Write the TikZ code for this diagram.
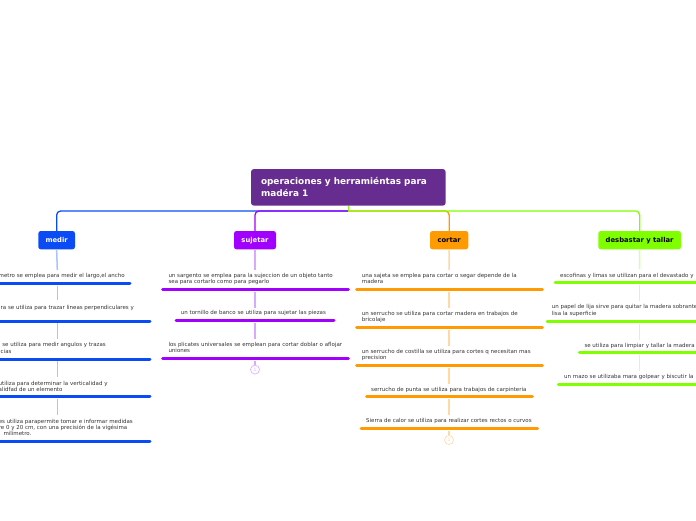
\documentclass[tikz,border=0pt]{standalone}
\usepackage{fontspec}
\setmainfont{DejaVu Sans}
\definecolor{rootc}{HTML}{672C90}
\definecolor{medc}{HTML}{0A4BF5}
\definecolor{sujc}{HTML}{A100FF}
\definecolor{cortc}{HTML}{FF9A00}
\definecolor{desc}{HTML}{80FF00}
\definecolor{medl}{HTML}{AAC3FF}
\definecolor{sujl}{HTML}{DCA8FF}
\definecolor{cortl}{HTML}{FFD8A3}
\definecolor{desl}{HTML}{D3FFA8}
\definecolor{txtc}{HTML}{333333}
\begin{document}
\begin{tikzpicture}[x=1pt,y=-1pt,
 itm/.style={inner sep=0pt, align=left, anchor=north west, font=\fontsize{5.5}{6.3}\selectfont, text=txtc},
 ln/.style={inner sep=0pt, anchor=base east, font=\fontsize{5.5}{6.3}\selectfont, text=txtc},
 lnl/.style={inner sep=0pt, anchor=base west, font=\fontsize{5.5}{6.3}\selectfont, text=txtc},
 hdr/.style={rounded corners=2.5pt, minimum height=18.3pt, inner sep=0pt, font=\fontsize{6.8}{8}\selectfont\bfseries},
 bar/.style={line width=3pt, line cap=round},
 vl/.style={line width=1.5pt},
 conn/.style={line width=1.3pt, rounded corners=4pt},
 cnt/.style={circle, draw, line width=0.6pt, minimum size=9pt, inner sep=0pt, font=\fontsize{4.5}{4.5}\selectfont}
]
\useasboundingbox (0,0) rectangle (696,520);
\clip (0,0) rectangle (696,520);

% root
\node[fill=rootc, rounded corners=3pt, minimum width=194.7pt, minimum height=36.7pt,
      text width=174.7pt, inner xsep=10pt, inner ysep=0pt, align=left, text=white,
      font=\fontsize{8.9}{12}\selectfont\bfseries] (root) at (348.35,187.35)
      {operaciones y herramiéntas para\\madéra 1};

% headers
\node[hdr, fill=medc, text=white, minimum width=36.7pt] (medir) at (56.65,240.15) {medir};
\node[hdr, fill=sujc, text=white, minimum width=42pt] (sujetar) at (255,240.15) {sujetar};
\node[hdr, fill=cortc, text=black, minimum width=38.3pt] (cortar) at (449.15,240.15) {cortar};
\node[hdr, fill=desc, text=black, minimum width=82.7pt] (desb) at (639.65,240.15) {desbastar y tallar};

% top connectors
\coordinate (hub) at (348.35,211);
\draw[conn, medc] (hub) -| (medir.north);
\draw[conn, sujc] (hub) -| (sujetar.north);
\draw[conn, cortc] (hub) -| (cortar.north);
\draw[conn, desc] (hub) -| (desb.north);
\draw[line width=1.3pt, desc] (root.south) -- (hub);

% ---------- medir column ----------
\node[ln] (m1a) at (125,277.5) {metro se emplea para medir el largo,el ancho};
\node[ln] (m2a) at (134,309.2) {ra se utiliza para trazar lineas perpendiculares y};
\node[ln] (m3a) at (106,346.8) {se utiliza para medir angulos y trazas};
\node[ln] (m3b) at (11.7,353.6) {cias};
\node[ln] (m4a) at (107.7,385.5) {utiliza para determinar la verticalidad y};
\node[lnl] (m4b) at ([yshift=-6pt]m4a.base west) {alidfad de un elemento};
\node[ln] (m5a) at (133,423.2) {es utiliza parapermite tomar e informar medidas};
\node[lnl] (m5b) at ([yshift=-6.1pt]m5a.base west) {re 0 y 20 cm, con una precisión de la vigésima};
\node[ln] (m5c) at (31.7,435.4) {milímetro.};

\coordinate (mb1l) at (-5,283.3); \coordinate (mb1r) at (130,283.3);
\coordinate (mb2l) at (-5,321);   \coordinate (mb2r) at (150,321);
\coordinate (mb3l) at (-5,359);   \coordinate (mb3r) at (150,359);
\coordinate (mb4l) at (-5,396.8); \coordinate (mb4r) at (150,396.8);
\coordinate (mb5l) at (-5,441);   \coordinate (mb5r) at (150,441);
\foreach \i in {1,...,5} {\draw[bar, medc] (mb\i l) -- (mb\i r);}

\coordinate (mv1) at (57.3,270);
\coordinate (mv2a) at (57.3,285.5); \coordinate (mv2b) at (57.3,300);
\coordinate (mv3a) at (57.3,323);   \coordinate (mv3b) at (57.3,339);
\coordinate (mv4a) at (57.3,361);   \coordinate (mv4b) at (57.3,377);
\coordinate (mv5a) at (57.3,399);   \coordinate (mv5b) at (57.3,415);
\draw[vl, medl] (medir.south) -- (mv1);
\foreach \i in {2,...,5} {\draw[vl, medl] (mv\i a) -- (mv\i b);}

% ---------- sujetar column ----------
\node[itm] (s1) at (168.3,273) {un sargento se emplea para la sujeccion de un objeto tanto\\sea para cortarlo como para pegarlo};
\node[itm] (s2) at (180.7,310.6) {un tornillo de banco se utiliza para sujetar las piezas};
\node[itm] (s3) at (168.3,342.3) {los plicates universales se emplean para cortar doblar o aflojar\\uniones};
\coordinate (sb1l) at (162.7,289.3); \coordinate (sb1r) at (348.3,289.3);
\coordinate (sb2l) at (176,320.7);   \coordinate (sb2r) at (334,320.7);
\coordinate (sb3l) at (162.7,358.7); \coordinate (sb3r) at (348.3,358.7);
\foreach \i in {1,...,3} {\draw[bar, sujc] (sb\i l) -- (sb\i r);}
\node[cnt, draw=sujl, text=sujl] (scnt) at (255,369.6) {1};
\coordinate (sv1) at (255,270);
\coordinate (sv2a) at (255,291.5); \coordinate (sv2b) at (255,308);
\coordinate (sv3a) at (255,323);   \coordinate (sv3b) at (255,339);
\coordinate (sv4a) at (255,361);
\draw[vl, sujl] (sujetar.south) -- (sv1);
\draw[vl, sujl] (sv2a) -- (sv2b);
\draw[vl, sujl] (sv3a) -- (sv3b);
\draw[vl, sujl] (sv4a) -- (scnt.north);

% ---------- cortar column ----------
\node[itm] (c1) at (361.7,273.3) {una sajeta se emplea para cortar o segar depende de la\\madera};
\node[itm] (c2) at (361.7,311.3) {un serrucho se utiliza para cortar madera en trabajos de\\bricolaje};
\node[itm] (c3) at (361.7,349.3) {un serrucho de costilla se utiliza para cortes q necesitan mas\\precision};
\node[itm] (c4) at (371,387.3) {serrucho de punta se utiliza para trabajos de carpinteria};
\node[itm] (c5) at (366,418.3) {Sierra de calor se utiliza para realizar cortes rectos o curvos};
\coordinate (cb1l) at (356.7,289.3); \coordinate (cb1r) at (542.3,289.3);
\coordinate (cb2l) at (356.7,327.3); \coordinate (cb2r) at (542.3,327.3);
\coordinate (cb3l) at (356.7,365.3); \coordinate (cb3r) at (542.3,365.3);
\coordinate (cb4l) at (366.7,396.7); \coordinate (cb4r) at (532.3,396.7);
\coordinate (cb5l) at (361,428.3);   \coordinate (cb5r) at (537.7,428.3);
\foreach \i in {1,...,5} {\draw[bar, cortc] (cb\i l) -- (cb\i r);}
\node[cnt, draw=cortl, text=cortl] (ccnt) at (449,440) {1};
\coordinate (cv1) at (449,270);
\coordinate (cv2a) at (449,291.5); \coordinate (cv2b) at (449,308);
\coordinate (cv3a) at (449,329.5); \coordinate (cv3b) at (449,346);
\coordinate (cv4a) at (449,367.5); \coordinate (cv4b) at (449,384);
\coordinate (cv5a) at (449,399);   \coordinate (cv5b) at (449,415);
\coordinate (cv6a) at (449,430.5);
\draw[vl, cortl] (cortar.south) -- (cv1);
\foreach \i in {2,...,5} {\draw[vl, cortl] (cv\i a) -- (cv\i b);}
\draw[vl, cortl] (cv6a) -- (ccnt.north);

% ---------- desbastar column ----------
\node[itm] (d1) at (560,273) {escofinas y limas se utilizan para el devastado y};
\node[itm] (d2) at (551.7,304.6) {un papel de lija sirve para quitar la madera sobrante\\lisa la superficie};
\node[itm] (d3) at (584.3,343) {se utiliza para limpiar y tallar la madera};
\node[itm] (d4) at (564,374.3) {un mazo se utilizaba mara golpear y biscutir la};
\coordinate (db1l) at (555,282.7);   \coordinate (db1r) at (705,282.7);
\coordinate (db2l) at (547,321);     \coordinate (db2r) at (705,321);
\coordinate (db3l) at (579.3,352.7); \coordinate (db3r) at (705,352.7);
\coordinate (db4l) at (558.3,384);   \coordinate (db4r) at (705,384);
\foreach \i in {1,...,4} {\draw[bar, desc] (db\i l) -- (db\i r);}
\coordinate (dv1) at (639.5,269);
\coordinate (dv2a) at (639.5,285);   \coordinate (dv2b) at (639.5,301);
\coordinate (dv3a) at (639.5,323.5); \coordinate (dv3b) at (639.5,340);
\coordinate (dv4a) at (639.5,355);   \coordinate (dv4b) at (639.5,371);
\draw[vl, desl] (desb.south) -- (dv1);
\foreach \i in {2,...,4} {\draw[vl, desl] (dv\i a) -- (dv\i b);}
\end{tikzpicture}
\end{document}
